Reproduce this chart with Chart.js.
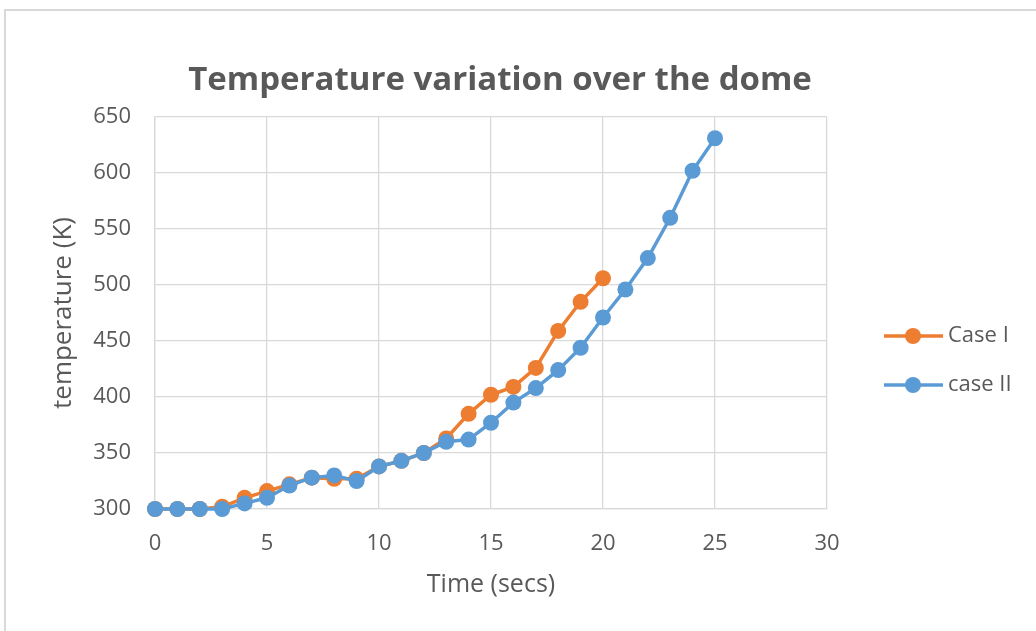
<!DOCTYPE html>
<html>
<head>
<meta charset="utf-8">
<script src="https://cdn.jsdelivr.net/npm/chart.js@4/dist/chart.umd.min.js"></script>
<style>
  html, body { margin: 0; padding: 0; background: #ffffff; overflow: hidden; }
  #frame { position: absolute; left: 4px; top: 9px; width: 1200px; height: 800px; border: 2px solid #D9D9D9; box-sizing: border-box; }
  #wrap { position: absolute; left: 0; top: 0; width: 1036px; height: 631px; }
</style>
</head>
<body>
<div id="frame"></div>
<div id="wrap"><canvas id="c" width="1036" height="631"></canvas></div>
<script>
const chartTitle = "Temperature variation over the dome";
const xAxisTitle = "Time (secs)";
const yAxisTitle = "temperature (K)";
const seriesNames = ["Case I", "case II"];
const timeCaseI  = [0, 1, 2, 3, 4, 5, 6, 7, 8, 9, 10, 11, 12, 13, 14, 15, 16, 17, 18, 19, 20];
const tempCaseI  = [300, 300, 300, 302, 310, 316, 322, 328, 327, 327, 338, 343, 350, 363, 385, 402, 409, 426, 459, 485, 506];
const timeCaseII = [0, 1, 2, 3, 4, 5, 6, 7, 8, 9, 10, 11, 12, 13, 14, 15, 16, 17, 18, 19, 20, 21, 22, 23, 24, 25];
const tempCaseII = [300, 300, 300, 300, 305, 310, 321, 328, 330, 325, 338, 343, 350, 360, 362, 377, 395, 408, 424, 444, 471, 496, 524, 560, 602, 631];
const xTicks = [0, 5, 10, 15, 20, 25, 30];
const yTicks = [300, 350, 400, 450, 500, 550, 600, 650];

const colors = ["#ED7D31", "#5B9BD5"];
const textColor = "#595959";
const gridColor = "#D9D9D9";
const fontFamily = "'Open Sans', 'Noto Sans', sans-serif";

function pts(xs, ys) { return xs.map((x, i) => ({ x: x, y: ys[i] })); }

const titleLegendPlugin = {
  id: 'excelTitleLegend',
  afterDraw(chart) {
    const ctx = chart.ctx;
    ctx.save();
    ctx.fillStyle = textColor;
    ctx.font = "bold 33px " + fontFamily;
    ctx.textAlign = "center";
    ctx.textBaseline = "alphabetic";
    ctx.fillText(chartTitle, 500, 90);
    ctx.restore();

    const rows = [336, 385];
    chart.data.datasets.forEach((ds, i) => {
      const y = rows[i];
      ctx.save();
      ctx.strokeStyle = ds.borderColor;
      ctx.lineWidth = 3.5;
      ctx.beginPath();
      ctx.moveTo(884, y);
      ctx.lineTo(943, y);
      ctx.stroke();
      ctx.fillStyle = ds.backgroundColor;
      ctx.beginPath();
      ctx.arc(913, y, 8, 0, Math.PI * 2);
      ctx.fill();
      ctx.fillStyle = textColor;
      ctx.font = "22px " + fontFamily;
      ctx.textBaseline = "middle";
      ctx.textAlign = "left";
      ctx.fillText(ds.label, 948, y);
      ctx.restore();
    });
  }
};

new Chart(document.getElementById('c'), {
  type: 'line',
  data: {
    datasets: [
      { label: seriesNames[0], data: pts(timeCaseI, tempCaseI), borderColor: colors[0], backgroundColor: colors[0],
        borderWidth: 3.5, pointRadius: 8, pointBorderWidth: 0, pointBackgroundColor: colors[0], tension: 0, clip: false, order: 1 },
      { label: seriesNames[1], data: pts(timeCaseII, tempCaseII), borderColor: colors[1], backgroundColor: colors[1],
        borderWidth: 3.5, pointRadius: 8, pointBorderWidth: 0, pointBackgroundColor: colors[1], tension: 0, clip: false, order: 0 }
    ]
  },
  options: {
    responsive: false,
    animation: false,
    layout: { padding: { left: 48, right: 209, top: 117, bottom: 0 } },
    plugins: {
      legend: { display: false },
      tooltip: { enabled: false },
      title: { display: false }
    },
    scales: {
      x: {
        type: 'linear',
        min: 0, max: 30,
        afterBuildTicks(scale) { scale.ticks = xTicks.map(v => ({ value: v })); },
        afterFit(scale) { scale.height = 122; },
        ticks: { color: textColor, font: { family: fontFamily, size: 22 }, padding: 22, maxRotation: 0 },
        grid: { color: gridColor, lineWidth: 1.3, drawTicks: false },
        border: { color: gridColor, width: 1.3 },
        title: { display: true, text: xAxisTitle, color: textColor, font: { family: fontFamily, size: 25, lineHeight: 1.2 }, padding: { top: 0, bottom: 31 } }
      },
      y: {
        type: 'linear',
        min: 300, max: 650,
        afterBuildTicks(scale) { scale.ticks = yTicks.map(v => ({ value: v })); },
        afterFit(scale) { scale.width = 107; },
        ticks: { color: textColor, font: { family: fontFamily, size: 22 }, padding: 24 },
        grid: { color: gridColor, lineWidth: 1.3, drawTicks: false },
        border: { color: gridColor, width: 1.3 },
        title: { display: true, text: yAxisTitle, color: textColor, font: { family: fontFamily, size: 26, lineHeight: 1.2 }, padding: { top: 0, bottom: 0 } }
      }
    }
  },
  plugins: [titleLegendPlugin]
});
</script>
</body>
</html>
